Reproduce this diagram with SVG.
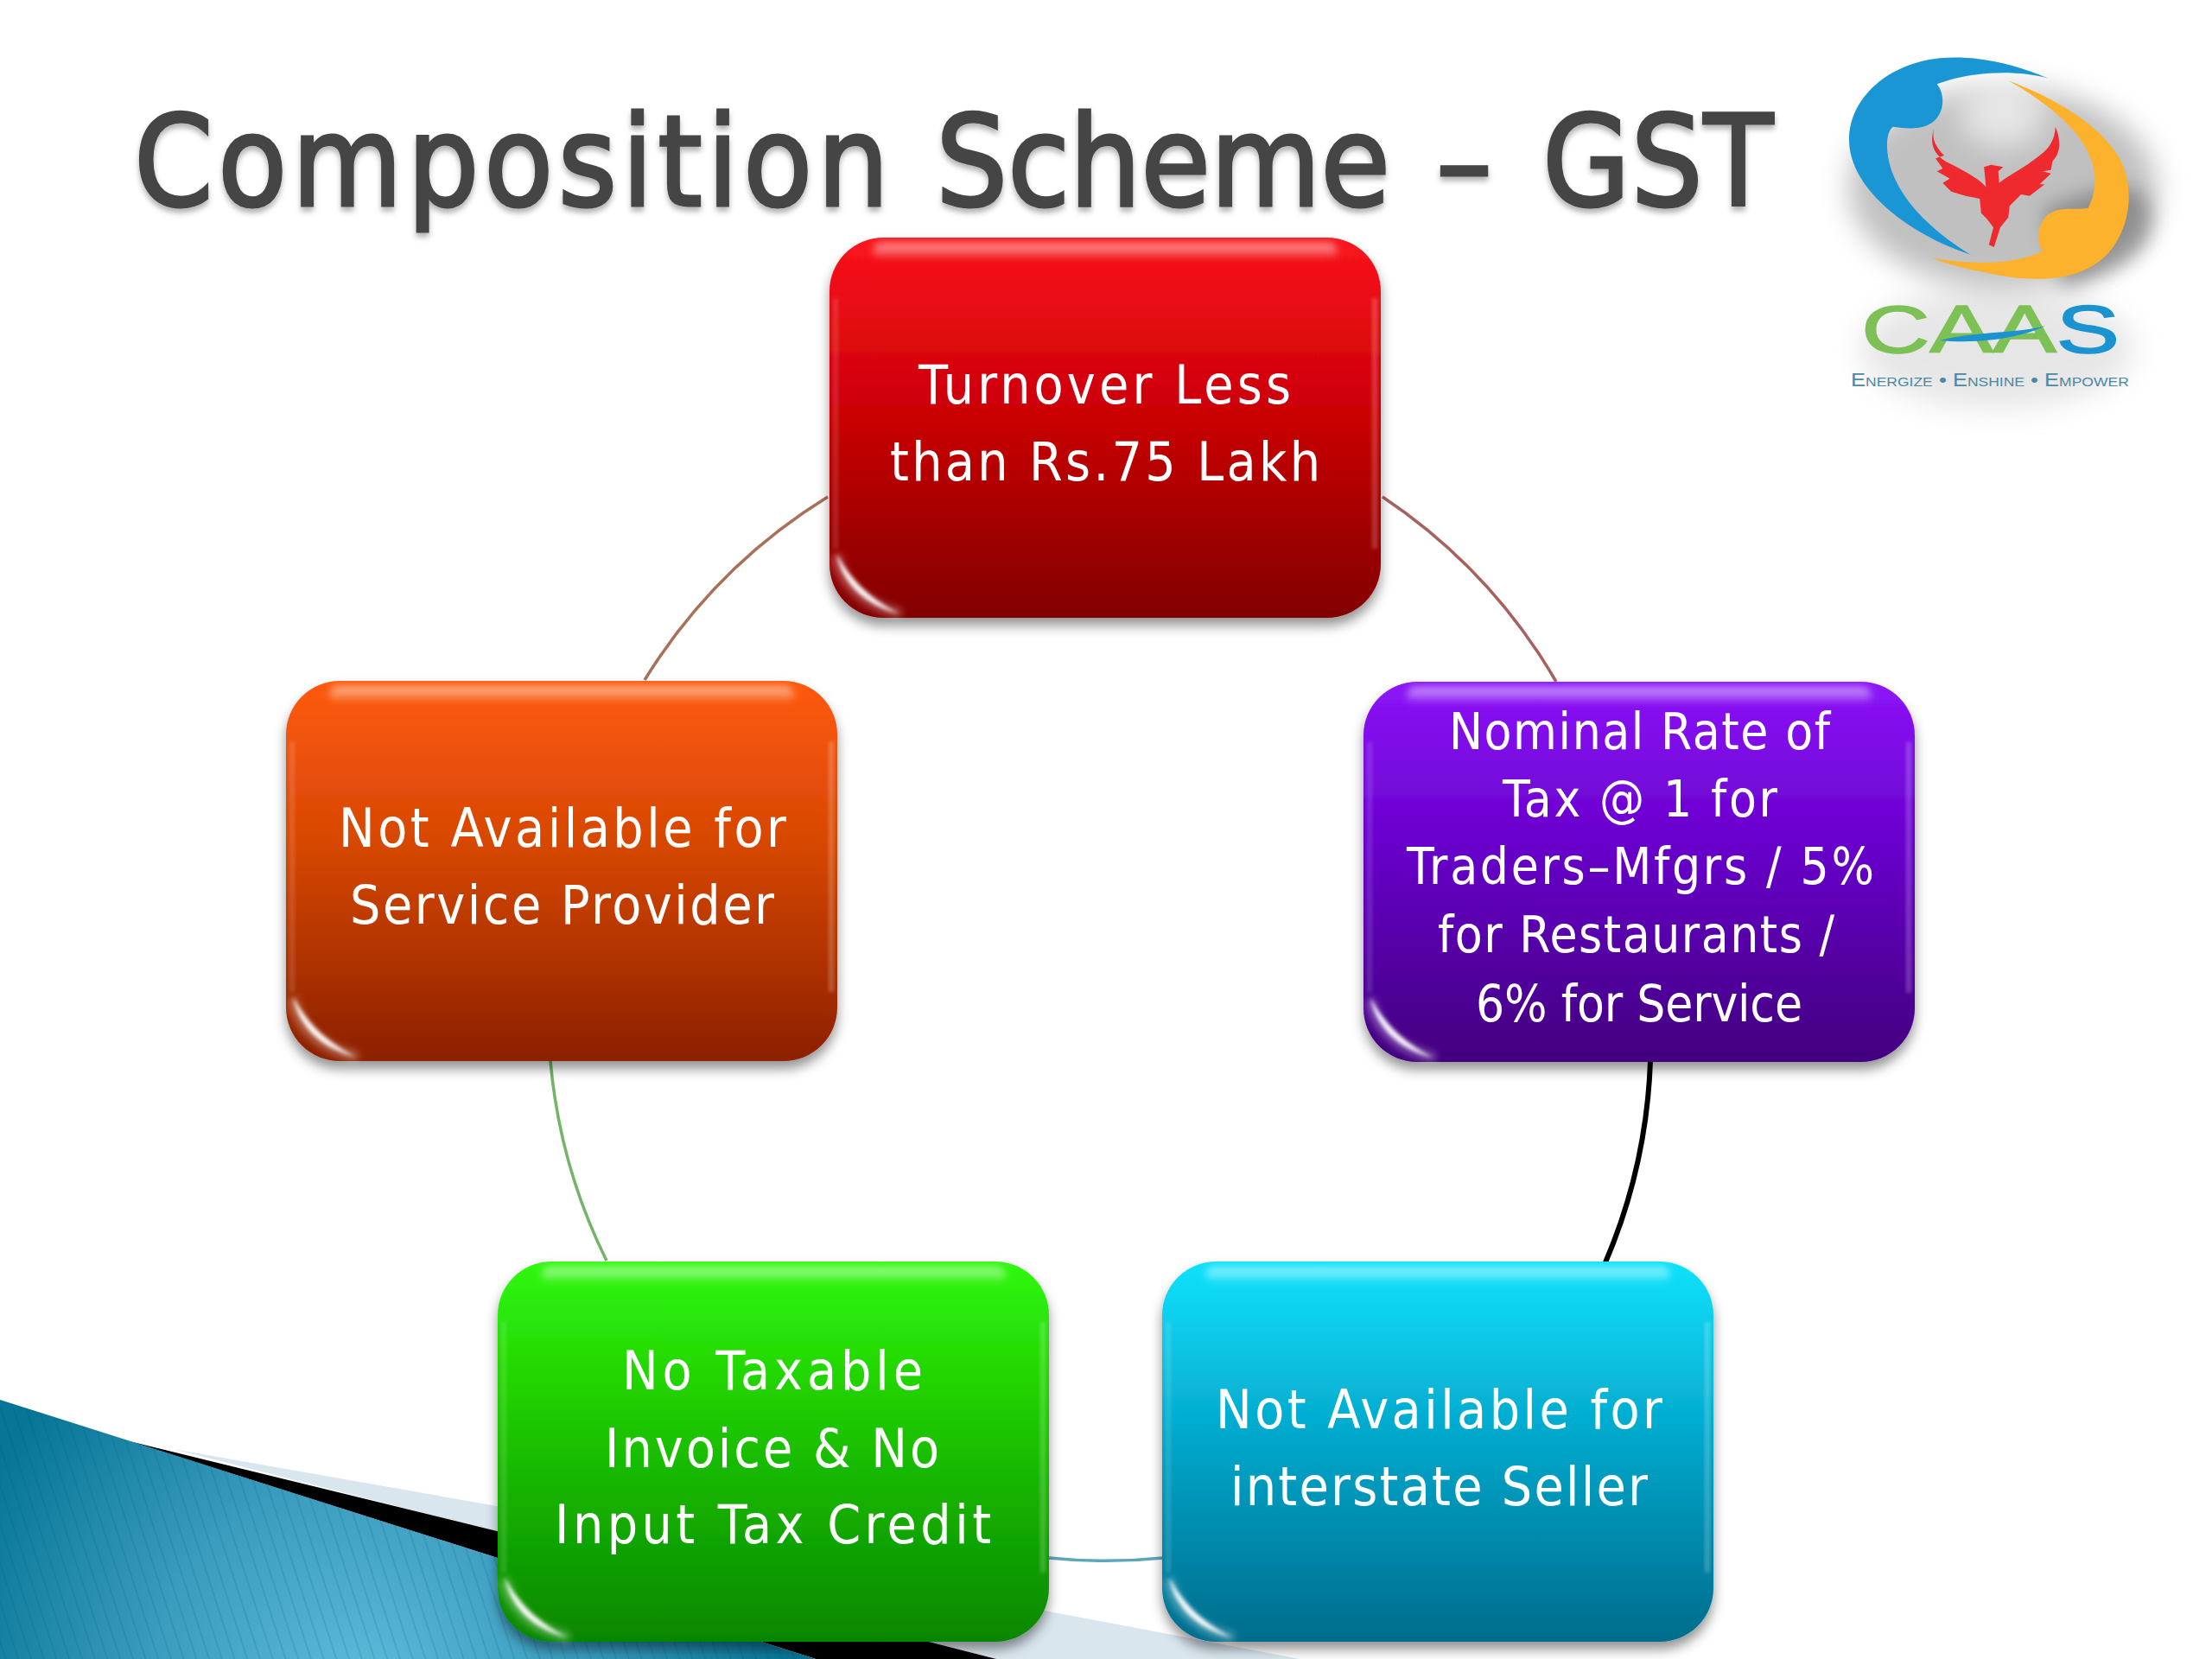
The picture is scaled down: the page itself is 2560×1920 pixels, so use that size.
<svg xmlns="http://www.w3.org/2000/svg" width="2560" height="1920" viewBox="0 0 2560 1920">
<style>
.t{font-family:"DejaVu Sans","Liberation Sans",sans-serif;font-stretch:condensed;font-size:62px;fill:#fff;}
.p{font-size:58px;}
.title{font-family:"DejaVu Sans","Liberation Sans",sans-serif;font-stretch:condensed;font-size:146px;fill:#454545;stroke:#454545;stroke-width:3;}
.b{fill:none;stroke-linecap:butt;}
</style>
<defs>
<linearGradient id="gr" x1="0" y1="0" x2="0" y2="1"><stop offset="0" stop-color="#fa141c"/><stop offset=".45" stop-color="#cc0006"/><stop offset="1" stop-color="#820000"/></linearGradient>
<linearGradient id="go" x1="0" y1="0" x2="0" y2="1"><stop offset="0" stop-color="#fe5a0c"/><stop offset=".45" stop-color="#d44604"/><stop offset="1" stop-color="#8c2000"/></linearGradient>
<linearGradient id="gp" x1="0" y1="0" x2="0" y2="1"><stop offset="0" stop-color="#8c14f8"/><stop offset=".45" stop-color="#6600c8"/><stop offset="1" stop-color="#42007e"/></linearGradient>
<linearGradient id="gg" x1="0" y1="0" x2="0" y2="1"><stop offset="0" stop-color="#30f80c"/><stop offset=".45" stop-color="#1cc400"/><stop offset="1" stop-color="#068600"/></linearGradient>
<linearGradient id="gc" x1="0" y1="0" x2="0" y2="1"><stop offset="0" stop-color="#10e2fc"/><stop offset=".45" stop-color="#04a8cc"/><stop offset="1" stop-color="#006c8c"/></linearGradient>
<linearGradient id="hl" x1="0" y1="0" x2="0" y2="1"><stop offset="0" stop-color="#fff" stop-opacity=".6"/><stop offset="1" stop-color="#fff" stop-opacity="0"/></linearGradient>
<radialGradient id="wedge" gradientUnits="userSpaceOnUse" cx="420" cy="1960" r="500"><stop offset="0" stop-color="#5fbcdb"/><stop offset=".5" stop-color="#3a9cbe"/><stop offset="1" stop-color="#067596"/></radialGradient>
<pattern id="stripes" width="14" height="14" patternUnits="userSpaceOnUse" patternTransform="rotate(-18)"><rect width="2" height="14" fill="#06506c" opacity=".14"/></pattern>
<filter id="sh" x="-10%" y="-10%" width="120%" height="125%"><feDropShadow dx="0" dy="9" stdDeviation="7" flood-color="#000" flood-opacity=".42"/></filter>
<filter id="b2" x="-60%" y="-80%" width="220%" height="260%"><feGaussianBlur stdDeviation="4"/></filter>
<filter id="b1" x="-30%" y="-30%" width="160%" height="160%"><feGaussianBlur stdDeviation="2"/></filter>
<filter id="ts" x="-5%" y="-20%" width="110%" height="140%"><feDropShadow dx="0" dy="5" stdDeviation="3" flood-color="#000" flood-opacity=".3"/></filter>
<filter id="lb" x="-40%" y="-40%" width="180%" height="180%"><feGaussianBlur stdDeviation="50"/></filter>
<filter id="lb2" x="-40%" y="-40%" width="180%" height="180%"><feGaussianBlur stdDeviation="34"/></filter>
<g id="gloss">
<rect x="50" y="6" width="538" height="20" rx="10" fill="url(#hl)" filter="url(#b2)"/>
<rect x="4" y="70" width="6" height="290" fill="#fff" opacity=".14" filter="url(#b1)"/>
<rect x="628" y="70" width="6" height="290" fill="#fff" opacity=".22" filter="url(#b1)"/>
<path d="M9 372C14 398 38 424 78 434" fill="none" stroke="#fff" stroke-width="13" stroke-linecap="round" opacity=".28" filter="url(#b2)"/>
<path d="M8 366C14 396 36 424 80 435C52 420 28 402 8 366Z" fill="#fff" opacity=".95" filter="url(#b1)"/>
</g>
</defs>
<rect width="2560" height="1920" fill="#fff"/>
<g id="background">
<polygon points="200,1677 575,1743 1214,1865 1504,1920 1153,1920" fill="#d9e6ee"/>
<polygon points="150,1668 575,1772 1153,1920 944,1920" fill="#000"/>
<polygon points="0,1620 944,1920 0,1920" fill="url(#wedge)"/>
<polygon points="0,1620 944,1920 0,1920" fill="url(#stripes)"/>
</g>
<g id="connectors" class="b">
<path d="M958 575A650 650 0 0 0 746 787" stroke="#a87058" stroke-width="3.5"/>
<path d="M1600 575A650 650 0 0 1 1801 789" stroke="#a5625e" stroke-width="3.5"/>
<path d="M1910 1228A650 650 0 0 1 1858 1461" stroke="#000" stroke-width="6"/>
<path d="M1214 1803A650 650 0 0 0 1346 1803" stroke="#5ca6ba" stroke-width="3.5"/>
<path d="M637 1228A650 650 0 0 0 702 1459" stroke="#74b468" stroke-width="3.5"/>
</g>
<text id="title" class="title" filter="url(#ts)"><tspan x="155" y="238" textLength="874" lengthAdjust="spacing">Composition</tspan> <tspan x="1083" y="238" textLength="526" lengthAdjust="spacing">Scheme</tspan> <tspan x="1662" y="238" textLength="65" lengthAdjust="spacingAndGlyphs">–</tspan> <tspan x="1785" y="238" textLength="267" lengthAdjust="spacing">GST</tspan></text>
<g id="node-turnover">
<g transform="translate(960 275)"><rect width="638" height="440" rx="62" fill="url(#gr)" filter="url(#sh)"/><use href="#gloss"/></g>
<text class="t" x="1063" y="467" textLength="431" lengthAdjust="spacing">Turnover Less</text>
<text class="t" x="1030" y="556" textLength="498" lengthAdjust="spacing">than Rs.75 Lakh</text>
</g>
<g id="node-service">
<g transform="translate(331 788)"><rect width="638" height="440" rx="62" fill="url(#go)" filter="url(#sh)"/><use href="#gloss"/></g>
<text class="t" x="392" y="980" textLength="518" lengthAdjust="spacing">Not Available for</text>
<text class="t" x="405" y="1069" textLength="491" lengthAdjust="spacing">Service Provider</text>
</g>
<g id="node-rate">
<g transform="translate(1578 789)"><rect width="638" height="440" rx="62" fill="url(#gp)" filter="url(#sh)"/><use href="#gloss"/></g>
<text class="t p" x="1677" y="867" textLength="441" lengthAdjust="spacing">Nominal Rate of</text>
<text class="t p" x="1739" y="945" textLength="318" lengthAdjust="spacing">Tax @ 1 for</text>
<text class="t p" x="1628" y="1023" textLength="541" lengthAdjust="spacing">Traders–Mfgrs / 5%</text>
<text class="t p" x="1664" y="1102" textLength="459" lengthAdjust="spacing">for Restaurants /</text>
<text class="t p" x="1708" y="1182" textLength="378" lengthAdjust="spacing">6% for Service</text>
</g>
<g id="node-invoice">
<g transform="translate(576 1460)"><rect width="638" height="440" rx="62" fill="url(#gg)" filter="url(#sh)"/><use href="#gloss"/></g>
<text class="t" x="720" y="1608" textLength="348" lengthAdjust="spacing">No Taxable</text>
<text class="t" x="700" y="1698" textLength="387" lengthAdjust="spacing">Invoice &amp; No</text>
<text class="t" x="642" y="1786" textLength="505" lengthAdjust="spacing">Input Tax Credit</text>
</g>
<g id="node-interstate">
<g transform="translate(1345 1460)"><rect width="638" height="440" rx="62" fill="url(#gc)" filter="url(#sh)"/><use href="#gloss"/></g>
<text class="t" x="1407" y="1653" textLength="517" lengthAdjust="spacing">Not Available for</text>
<text class="t" x="1424" y="1742" textLength="483" lengthAdjust="spacing">interstate Seller</text>
</g>
<g id="logo" transform="translate(2080 30) scale(.33 .3333)">
<ellipse cx="700" cy="1120" rx="480" ry="210" fill="#a8a8a8" opacity=".28" filter="url(#lb)"/>
<ellipse cx="720" cy="560" rx="540" ry="350" fill="#9a9a9a" opacity=".62" filter="url(#lb)"/>
<path d="M860 640Q1220 480 1240 640Q1280 820 930 910Z" fill="#6a6a6a" opacity=".6" filter="url(#lb2)"/>
<ellipse cx="720" cy="310" rx="150" ry="110" fill="#fff" opacity=".6" filter="url(#lb)"/>
<path d="M880 182C760 130 620 100 500 112C320 130 180 250 182 400C184 560 380 720 610 795C480 720 320 580 315 420C314 385 322 360 335 350C380 355 440 365 480 330C515 300 520 240 490 202C600 160 760 150 880 182Z" fill="#1996d3"/>
<path d="M740 190C900 250 1060 340 1130 460C1185 560 1170 700 1090 790C1000 885 850 890 720 868C620 850 530 830 470 805C600 830 760 830 860 782C835 745 840 690 880 655C920 625 970 640 1020 632C1060 560 1050 470 990 390C930 310 830 240 740 190Z" fill="#fdb22e"/>
<path id="phoenix" d="M480 355C465 400 472 440 520 470C570 495 640 530 662 560L655 490L680 482L722 490L705 505L708 545C740 520 800 490 850 450C885 425 905 390 905 350C925 395 925 440 895 470L890 500L860 505L890 512L850 550L868 550L815 590L785 585L745 625L740 665L712 700L690 768L672 760L688 700L665 670L645 650L640 600L590 590L540 575L510 545L535 530L490 505L510 495L485 460L515 450C485 420 470 390 480 355Z" fill="#ee2a2e"/>
<text x="225" y="1133" textLength="905" lengthAdjust="spacingAndGlyphs" style="font-family:'Liberation Sans',sans-serif;font-size:232px"><tspan fill="#7dc156" stroke="#7dc156" stroke-width="5">CAA</tspan><tspan fill="#1a93d0" stroke="#1a93d0" stroke-width="5">S</tspan></text>
<path d="M500 1092C620 1060 760 1070 870 1042C780 1085 630 1105 500 1092Z" fill="#1a93d0"/>
<text x="188" y="1250" textLength="975" lengthAdjust="spacingAndGlyphs" fill="#4d87a8" style="font-family:'Liberation Sans',sans-serif;font-size:66px;font-variant:small-caps">Energize • Enshine • Empower</text>
</g>
</svg>
